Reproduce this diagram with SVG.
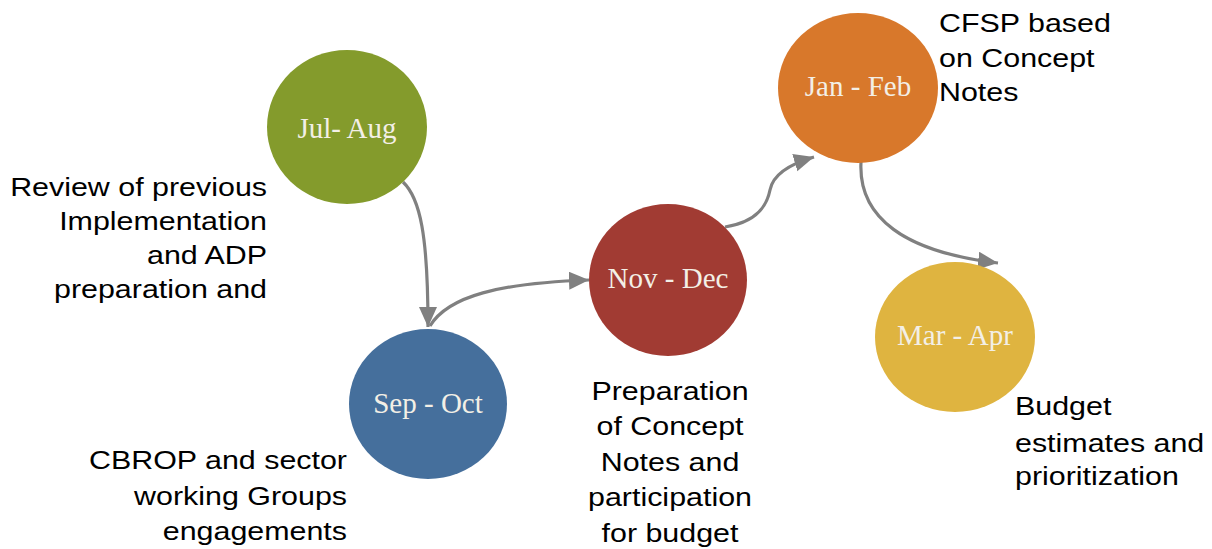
<svg xmlns="http://www.w3.org/2000/svg" width="1212" height="549" viewBox="0 0 1212 549">
<style>
.lbl{font-family:"Liberation Serif","Times New Roman",serif;font-size:29px;fill:#f3efe6;text-anchor:middle}
.note{font-family:"Liberation Sans",Arial,sans-serif;font-size:26px;fill:#000}
.conn{fill:none;stroke:#808080;stroke-width:3.2}
</style>
<defs>
<marker id="ah" markerUnits="userSpaceOnUse" markerWidth="22" markerHeight="20" refX="20" refY="9" orient="auto">
<path d="M0,0 L20,9 L0,18 Z" fill="#808080"/>
</marker>
</defs>
<rect width="1212" height="549" fill="#fff"/>
<g id="connectors">
<path class="conn" d="M403,182 C420,198 428,235 428,327" marker-end="url(#ah)"/>
<path class="conn" d="M430,326 C448,296 500,283 589,280" marker-end="url(#ah)"/>
<path class="conn" d="M725,227 C758,222 767,205 770,190 C773,174 790,164 814,157" marker-end="url(#ah)"/>
<path class="conn" d="M861,162 C858,218 905,252 998,263" marker-end="url(#ah)"/>
</g>
<g id="jul-aug">
<ellipse cx="347" cy="127" rx="80" ry="77" fill="#849b2c"/>
<text class="lbl" x="347" y="138">Jul- Aug</text>
<g transform="translate(267,0) scale(1.17,1)">
<text class="note" text-anchor="end" x="0" y="196">Review of previous</text>
<text class="note" text-anchor="end" x="0" y="230">Implementation</text>
<text class="note" text-anchor="end" x="0" y="264">and ADP</text>
<text class="note" text-anchor="end" x="0" y="298">preparation and</text>
</g>
</g>
<g id="sep-oct">
<ellipse cx="428" cy="404" rx="79" ry="75" fill="#456f9c"/>
<text class="lbl" x="428" y="413">Sep - Oct</text>
<g transform="translate(347,0) scale(1.17,1)">
<text class="note" text-anchor="end" x="0" y="469">CBROP and sector</text>
<text class="note" text-anchor="end" x="0" y="505">working Groups</text>
<text class="note" text-anchor="end" x="0" y="540">engagements</text>
</g>
</g>
<g id="nov-dec">
<ellipse cx="668" cy="280" rx="79" ry="76" fill="#a13b33"/>
<text class="lbl" x="668" y="288">Nov - Dec</text>
<g transform="translate(670,0) scale(1.17,1)">
<text class="note" text-anchor="middle" x="0" y="400">Preparation</text>
<text class="note" text-anchor="middle" x="0" y="435">of Concept</text>
<text class="note" text-anchor="middle" x="0" y="471">Notes and</text>
<text class="note" text-anchor="middle" x="0" y="506">participation</text>
<text class="note" text-anchor="middle" x="0" y="542">for budget</text>
</g>
</g>
<g id="jan-feb">
<ellipse cx="858" cy="88" rx="80" ry="75" fill="#d8782b"/>
<text class="lbl" x="858" y="96">Jan - Feb</text>
<g transform="translate(939,0) scale(1.17,1)">
<text class="note" x="0" y="32">CFSP based</text>
<text class="note" x="0" y="67">on Concept</text>
<text class="note" x="0" y="101">Notes</text>
</g>
</g>
<g id="mar-apr">
<ellipse cx="955" cy="337" rx="80" ry="75" fill="#dfb440"/>
<text class="lbl" x="955" y="345">Mar - Apr</text>
<g transform="translate(1015,0) scale(1.17,1)">
<text class="note" x="0" y="415">Budget</text>
<text class="note" x="0" y="452">estimates and</text>
<text class="note" x="0" y="485">prioritization</text>
</g>
</g>
</svg>
